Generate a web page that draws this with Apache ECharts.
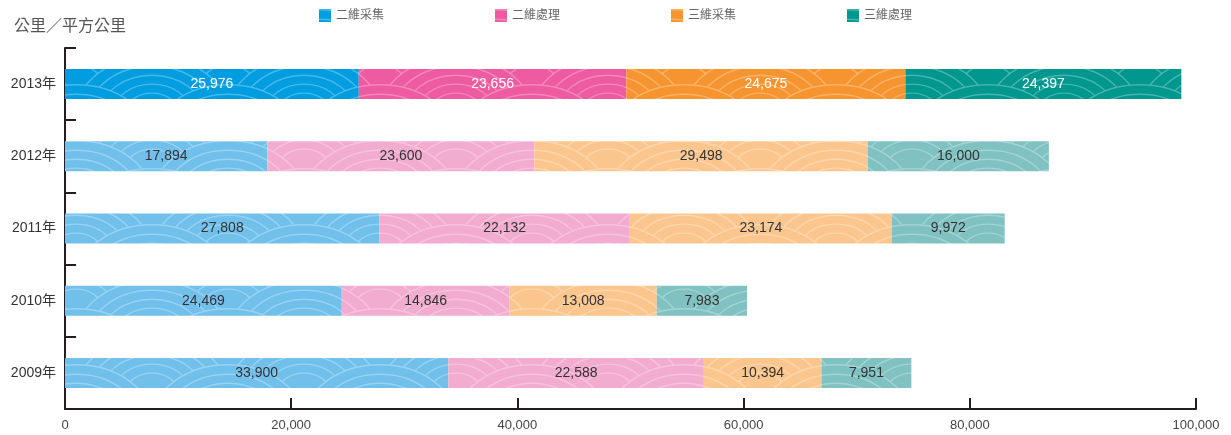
<!DOCTYPE html>
<html><head><meta charset="utf-8">
<script src="https://cdn.jsdelivr.net/npm/echarts@6/dist/echarts.min.js"></script>
<style>html,body{margin:0;padding:0;background:#fff}#c{width:1231px;height:435px}</style>
</head><body><div id="c"></div>
<script>
const years = ['2009年','2010年','2011年','2012年','2013年'];
const seriesNames = ['二維采集','二維處理','三維采集','三維處理'];
const v2dCollect = [33900, 24469, 27808, 17894, 25976];
const v2dProcess = [22588, 14846, 22132, 23600, 23656];
const v3dCollect = [10394, 13008, 23174, 29498, 24675];
const v3dProcess = [7951, 7983, 9972, 16000, 24397];
const xTicks = [0, 20000, 40000, 60000, 80000, 100000];

const fullColors = ['#009ee0', '#ee5ba0', '#f6952f', '#00978f'];
const lightColors = ['#71c0ec', '#f2acd0', '#fbc68e', '#80c2c1'];
const FONT = '"Liberation Sans", "Noto Sans CJK TC", sans-serif';

function makePattern(base) {
  const RX = 76, RY = 56;
  const w = 2 * RX, h = RY;
  const c = document.createElement('canvas');
  c.width = w; c.height = h;
  const ctx = c.getContext('2d');
  ctx.fillStyle = base; ctx.fillRect(0, 0, w, h);
  for (let j = -2; j <= 4; j++) {
    const cy = j * RY / 2;
    for (let i = -2; i <= 2; i++) {
      const cx = i * 2 * RX + ((j % 2 !== 0) ? RX : 0);
      ctx.beginPath(); ctx.ellipse(cx, cy, RX, RY, 0, 0, Math.PI * 2);
      ctx.fillStyle = base; ctx.fill();
      ctx.strokeStyle = 'rgba(255,255,255,0.28)';
      ctx.lineWidth = 1.4;
      [1, 0.83, 0.67, 0.51, 0.35].forEach(f => {
        ctx.beginPath(); ctx.ellipse(cx, cy, RX * f - 0.7, RY * f - 0.7, 0, 0, Math.PI * 2); ctx.stroke();
      });
    }
  }
  return { image: c, repeat: 'repeat' };
}

function fmt(n) { return String(n).replace(/\B(?=(\d{3})+(?!\d))/g, ','); }

const allValues = [v2dCollect, v2dProcess, v3dCollect, v3dProcess];
const series = seriesNames.map((name, k) => {
  const full = makePattern(fullColors[k]);
  const light = makePattern(lightColors[k]);
  return {
    name, type: 'bar', stack: 'total', barWidth: 30,
    itemStyle: { color: full },
    label: { show: true, position: 'inside', fontFamily: FONT, fontSize: 14, color: '#333',
      formatter: p => fmt(p.value) },
    emphasis: { disabled: true },
    data: allValues[k].map((v, i) => i === years.length - 1
      ? { value: v, label: { color: '#fff' } }
      : { value: v, itemStyle: { color: light } })
  };
});

const chart = echarts.init(document.getElementById('c'), null, { renderer: 'canvas' });
chart.setOption({
  animation: false,
  backgroundColor: '#fff',
  title: { text: '公里／平方公里', left: 9, top: 14,
    textStyle: { fontFamily: FONT, fontSize: 16, fontWeight: 'normal', color: '#555' } },
  legend: { top: 4, left: 'center', itemWidth: 12, itemHeight: 13, itemGap: 111, icon: 'rect',
    textStyle: { fontFamily: FONT, fontSize: 12, color: '#666' }, data: seriesNames },
  grid: { left: 65, right: 35, top: 48, bottom: 26, containLabel: false },
  xAxis: { type: 'value', min: xTicks[0], max: xTicks[xTicks.length - 1], interval: xTicks[1] - xTicks[0],
    axisLine: { show: true, lineStyle: { color: '#231f20', width: 2 } },
    axisTick: { show: true, inside: true, length: 11, lineStyle: { color: '#231f20', width: 2 } },
    splitLine: { show: false },
    axisLabel: { fontFamily: FONT, fontSize: 13, color: '#444', margin: 10, formatter: v => fmt(v) } },
  yAxis: { type: 'category', data: years,
    axisLine: { show: true, lineStyle: { color: '#231f20', width: 2 } },
    axisTick: { show: true, inside: true, length: 11, lineStyle: { color: '#231f20', width: 2 } },
    axisLabel: { fontFamily: FONT, fontSize: 14, color: '#333', margin: 9 } },
  series
});
</script></body></html>
